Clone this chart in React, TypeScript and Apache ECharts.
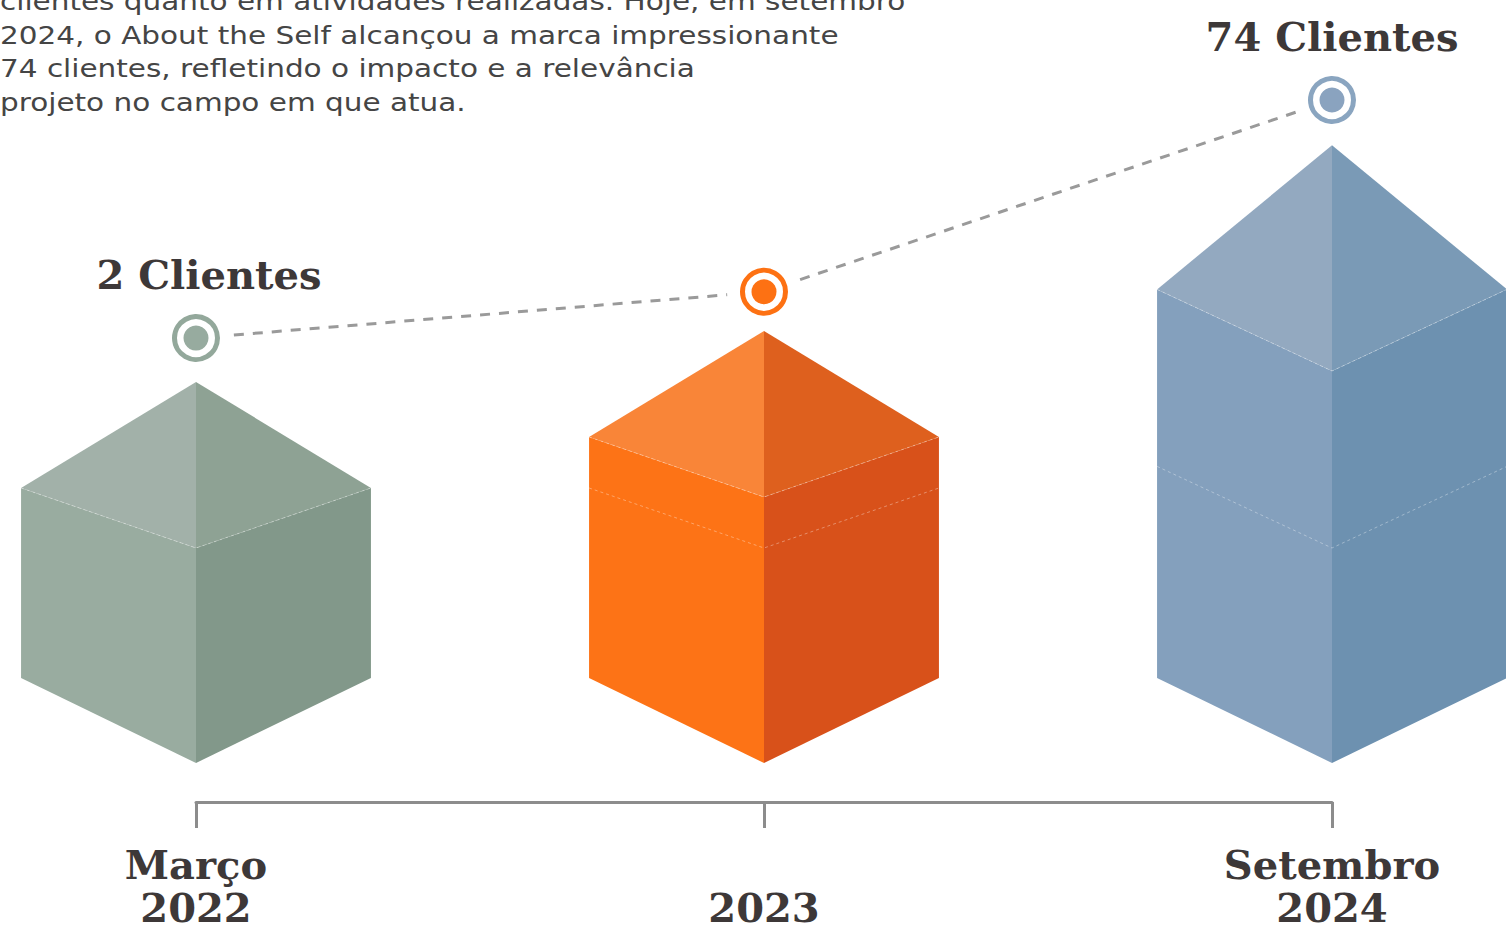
import React, { useEffect, useRef } from "react";
import * as echarts from "echarts";

// ---- data ----
const periodMonths = ["Março", "", "Setembro"];
const periodYears = ["2022", "2023", "2024"];
const clients = [2, 16, 74];
const showClientLabel = [true, false, true];
const cubeLevels = [215, 266, 392];
const introLines = [
  "clientes quanto em atividades realizadas. Hoje, em setembro",
  "2024, o About the Self alcançou a marca impressionante",
  "74 clientes, refletindo o impacto e a relevância",
  "projeto no campo em que atua.",
];

// ---- styles ----
const cubeStyles = [
  { topL: "#a2b1a9", topR: "#8ea294", left: "#99aca0", right: "#82988a", ring: "#93a89b", dot: "#97ab9f", topScale: 1, labelDx: 13 },
  { topL: "#f98538", topR: "#de601e", left: "#fd7316", right: "#d8511a", ring: "#fd7113", dot: "#fd7113", topScale: 1, labelDx: 0 },
  { topL: "#93a9c0", topR: "#7a9ab6", left: "#84a0bd", right: "#6d91b0", ring: "#8aa5c0", dot: "#8aa3bf", topScale: 1.36, labelDx: 0 },
];

const categories = periodMonths.map((m, i) => `${m}\n${periodYears[i]}`);

export default function App() {
  const ref = useRef<HTMLDivElement>(null);

  useEffect(() => {
    if (!ref.current) return;
    const chart = echarts.init(ref.current, null, { renderer: "svg" });

    const option: any = {
      animation: false,
      backgroundColor: "#ffffff",
      grid: { left: 196, right: 174, top: 100, bottom: 167, containLabel: false },
      xAxis: {
        type: "category",
        data: categories,
        boundaryGap: false,
        offset: 39,
        axisLine: { show: true, onZero: false, lineStyle: { color: "#8c8c8c", width: 3 } },
        axisTick: { show: true, length: 26, alignWithLabel: true, lineStyle: { color: "#8c8c8c", width: 3 } },
        axisLabel: {
          interval: 0,
          margin: 41,
          color: "#3d3838",
          fontFamily: "DejaVu Serif",
          fontWeight: "bold",
          fontSize: 40,
          lineHeight: 43,
        },
        splitLine: { show: false },
      },
      yAxis: [
        { type: "value", min: -126.5, max: 74, show: false },
        { type: "value", min: 0, max: 663, show: false },
      ],
      graphic: [
        {
          type: "text",
          left: 0,
          top: -15,
          scaleX: 1.18,
          style: {
            text: introLines.join("\n"),
            fontFamily: "DejaVu Sans",
            fontSize: 25,
            lineHeight: 33.5,
            fill: "#454545",
          },
        },
      ],
      series: [
        {
          type: "custom",
          name: "cubes",
          yAxisIndex: 1,
          z: 1,
          data: cubeLevels.map((v, i) => [i, v]),
          renderItem: (params: any, api: any) => {
            const i = params.dataIndex;
            const st = cubeStyles[i];
            const [cx, fy] = api.coord([api.value(0), api.value(1)]);
            const by = api.coord([api.value(0), 0])[1];
            const band = api.size([1, 0])[0];
            const hw = band * 0.308;
            const drop = hw * 0.486;
            const s = st.topScale;
            const front = hw * 0.343 * s;
            const rise = hw * 0.606 * s;
            const sideTop = fy - front;
            const apex = sideTop - rise;
            const sideBot = by - drop;
            const children: any[] = [
              { type: "polygon", shape: { points: [[cx - hw, sideTop], [cx, fy], [cx, by], [cx - hw, sideBot]] }, style: { fill: st.left } },
              { type: "polygon", shape: { points: [[cx, fy], [cx + hw, sideTop], [cx + hw, sideBot], [cx, by]] }, style: { fill: st.right } },
              { type: "polygon", shape: { points: [[cx, apex], [cx - hw, sideTop], [cx, fy]] }, style: { fill: st.topL } },
              { type: "polygon", shape: { points: [[cx, apex], [cx + hw, sideTop], [cx, fy]] }, style: { fill: st.topR } },
              {
                type: "polyline",
                shape: { points: [[cx - hw, sideTop], [cx, fy], [cx + hw, sideTop]] },
                style: { stroke: "rgba(255,255,255,0.35)", lineWidth: 1, lineDash: [3, 3], fill: null },
              },
            ];
            if (api.value(1) > cubeLevels[0]) {
              const baseY = api.coord([api.value(0), cubeLevels[0]])[1];
              children.push({
                type: "polyline",
                shape: { points: [[cx - hw, baseY - front], [cx, baseY], [cx + hw, baseY - front]] },
                style: { stroke: "rgba(255,255,255,0.35)", lineWidth: 1, lineDash: [3, 3], fill: null },
              });
            }
            return { type: "group", children };
          },
        },
        {
          type: "line",
          name: "clientes",
          yAxisIndex: 0,
          z: 2,
          data: clients,
          symbol: "none",
          lineStyle: { color: "#9a9a9a", width: 3, type: [10, 9] },
        },
        {
          type: "custom",
          name: "markers",
          yAxisIndex: 0,
          z: 3,
          data: clients.map((v, i) => [i, v]),
          renderItem: (params: any, api: any) => {
            const i = params.dataIndex;
            const st = cubeStyles[i];
            const [x, y] = api.coord([api.value(0), api.value(1)]);
            const children: any[] = [
              { type: "circle", shape: { cx: x, cy: y, r: 37 }, style: { fill: "#ffffff" } },
              { type: "circle", shape: { cx: x, cy: y, r: 21.5 }, style: { fill: null, stroke: st.ring, lineWidth: 5 } },
              { type: "circle", shape: { cx: x, cy: y, r: 12.5 }, style: { fill: st.dot } },
            ];
            if (showClientLabel[i]) {
              children.push({
                type: "text",
                x: x + st.labelDx,
                y: y - 64,
                style: {
                  text: `${api.value(1)} Clientes`,
                  align: "center",
                  verticalAlign: "middle",
                  fontFamily: "DejaVu Serif",
                  fontWeight: "bold",
                  fontSize: 40,
                  fill: "#3d3838",
                },
              });
            }
            return { type: "group", children };
          },
        },
      ],
    };

    chart.setOption(option);
    return () => chart.dispose();
  }, []);

  return (
    <div
      ref={ref}
      style={{ position: "fixed", left: 0, top: 0, width: 1506, height: 930, background: "#fff" }}
    />
  );
}
